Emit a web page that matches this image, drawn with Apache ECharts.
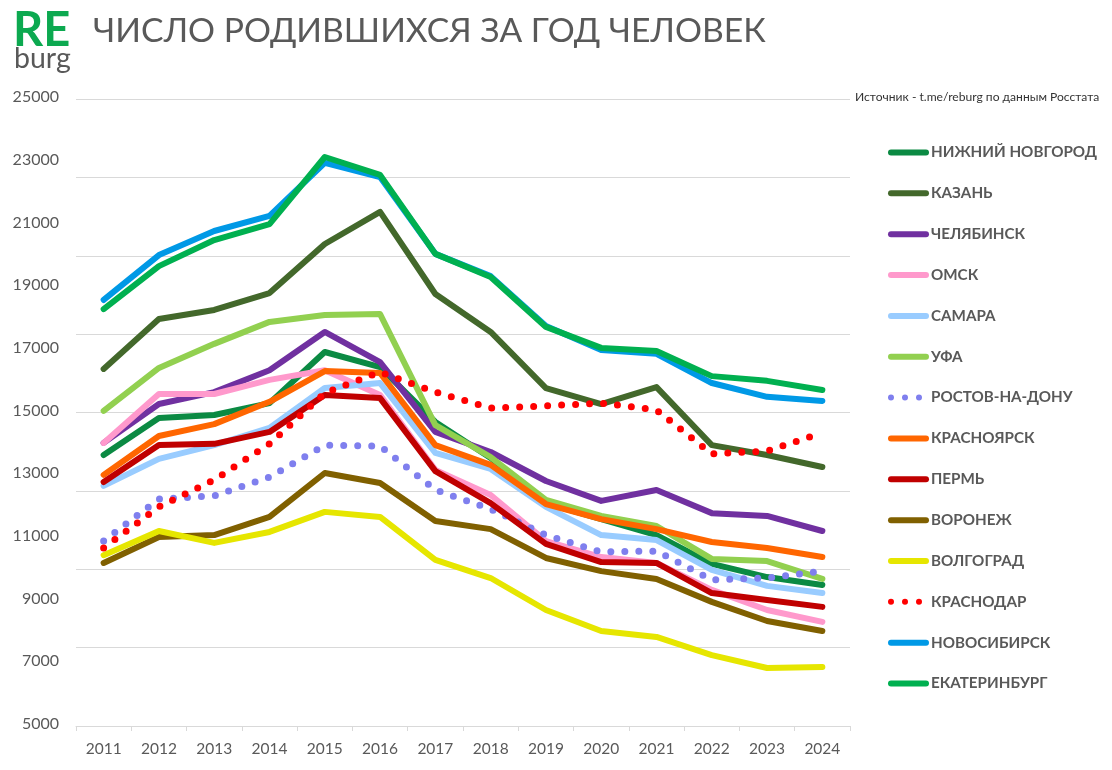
<!DOCTYPE html>
<html><head><meta charset="utf-8">
<style>html,body{margin:0;padding:0;background:#fff}#c{width:1112px;height:770px}</style>
<script src="https://cdn.jsdelivr.net/npm/echarts@6/dist/echarts.min.js"></script>
</head><body><div id="c"></div>
<script>
const years = ['2011','2012','2013','2014','2015','2016','2017','2018','2019','2020','2021','2022','2023','2024'];
const yLabels = [5000,7000,9000,11000,13000,15000,17000,19000,21000,23000,25000];
const nizhny = [13645,14825,14920,15300,16930,16450,14700,13550,12110,11600,11090,10170,9750,9500];
const kazan = [16390,17980,18270,18810,20375,21400,18780,17570,15780,15270,15810,13960,13645,13260];
const chelyabinsk = [14030,15270,15650,16350,17570,16610,14380,13740,12815,12180,12530,11790,11700,11220];
const omsk = [14030,15590,15590,16040,16350,15560,13170,12370,10900,10390,10200,9340,8700,8320];
const samara = [12660,13520,13960,14510,15780,15940,13710,13200,11990,11090,10930,9980,9470,9240];
const ufa = [15050,16420,17190,17890,18110,18140,14600,13580,12210,11700,11380,10330,10260,9690];
const rostov = [10900,12240,12340,12940,13960,13930,12530,11920,11090,10550,10580,9660,9720,9940];
const krasnoyarsk = [13010,14250,14630,15340,16320,16260,13960,13330,12080,11600,11280,10870,10680,10390];
const perm = [12780,13960,14000,14380,15560,15460,13130,12110,10810,10230,10200,9240,9020,8800];
const voronezh = [10200,11030,11090,11670,13070,12750,11540,11280,10360,9940,9690,8960,8350,8030];
const volgograd = [10450,11220,10840,11190,11830,11670,10300,9720,8700,8030,7840,7260,6850,6880];
const krasnodar = [10680,11990,12850,14000,15620,16290,15650,15140,15210,15300,15080,13680,13770,14350];
const novosibirsk = [18590,20020,20790,21270,22960,22510,20060,19350,17760,16990,16870,15940,15500,15370];
const ekaterinburg = [18300,19670,20500,21010,23150,22580,20060,19320,17730,17060,16960,16160,16010,15720];

const defs = [
  ['НИЖНИЙ НОВГОРОД', nizhny, '#0B8A43'],
  ['КАЗАНЬ', kazan, '#43682B'],
  ['ЧЕЛЯБИНСК', chelyabinsk, '#7030A0'],
  ['ОМСК', omsk, '#FF99CC'],
  ['САМАРА', samara, '#99CCFF'],
  ['УФА', ufa, '#92D050'],
  ['РОСТОВ-НА-ДОНУ', rostov, '#7F7FEE', true],
  ['КРАСНОЯРСК', krasnoyarsk, '#FF6600'],
  ['ПЕРМЬ', perm, '#C00000'],
  ['ВОРОНЕЖ', voronezh, '#806000'],
  ['ВОЛГОГРАД', volgograd, '#E6E600'],
  ['КРАСНОДАР', krasnodar, '#FF0000', true],
  ['НОВОСИБИРСК', novosibirsk, '#0099E6'],
  ['ЕКАТЕРИНБУРГ', ekaterinburg, '#00B050']
];
const FONT = 'Lato, "Open Sans", sans-serif';
const chart = echarts.init(document.getElementById('c'), null, {renderer:'canvas'});
chart.setOption({
  animation:false,
  backgroundColor:'#fff',
  textStyle:{fontFamily:FONT},
  title:[
    {text:'ЧИСЛО РОДИВШИХСЯ ЗА ГОД ЧЕЛОВЕК',left:93,top:14,padding:0,textStyle:{fontFamily:FONT,fontWeight:'normal',fontSize:33.7,lineHeight:34,color:'#595959'}},
    {text:'RE',left:13,top:7,padding:0,textStyle:{fontFamily:FONT,fontWeight:'bold',fontSize:47,lineHeight:47,color:'#0CA950'}},
    {text:'burg',left:14,top:44,padding:0,textStyle:{fontFamily:FONT,fontWeight:'normal',fontSize:28.5,lineHeight:30,color:'#595959'}},
    {text:'Источник - t.me/reburg по данным Росстата',left:855,top:91,padding:0,textStyle:{fontFamily:FONT,fontWeight:'normal',fontSize:12.1,lineHeight:13,color:'#333'}}
  ],
  grid:{left:76,right:262,top:99,bottom:44,containLabel:false},
  legend:{
    orient:'vertical',left:888,top:144,padding:0,
    itemWidth:35,itemHeight:10,itemGap:23.85,
    itemStyle:{color:'rgba(0,0,0,0)',opacity:0,borderWidth:0},
    lineStyle:{width:6,cap:'round'},
    textStyle:{fontFamily:FONT,fontWeight:'bold',fontSize:15.2,color:'#595959',lineHeight:14,padding:[0,0,3,0]},
    data:defs.map(d=>d[0])
  },
  xAxis:{type:'category',data:years,boundaryGap:true,
    axisLine:{lineStyle:{color:'#d9d9d9',width:1}},
    axisTick:{show:true,length:5,alignWithLabel:false,lineStyle:{color:'#d9d9d9'}},
    axisLabel:{color:'#595959',fontFamily:FONT,fontSize:15.5,margin:15,interval:0}},
  yAxis:{type:'value',min:5000,max:25000,interval:2500,
    axisLine:{show:false},axisTick:{show:false},
    splitLine:{show:true,lineStyle:{color:'#d9d9d9',width:1}},
    axisLabel:{customValues:yLabels,color:'#595959',fontFamily:FONT,fontSize:16,margin:17,verticalAlign:'bottom',lineHeight:4,formatter:v=>String(v)}},
  series:defs.map(d=>({
    name:d[0],type:'line',data:d[1],symbol:'none',smooth:false,
    itemStyle:{color:d[2]},
    lineStyle:{color:d[2],width:d[3]?7:6,cap:'round',join:'round',type:d[3]?[0,14]:'solid'}
  }))
});
</script></body></html>
